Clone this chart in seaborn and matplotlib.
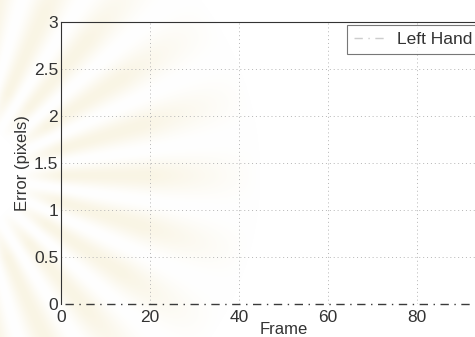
import numpy as np
import pandas as pd
import matplotlib
matplotlib.use("Agg")
import matplotlib.pyplot as plt
import seaborn as sns

# Tracking error of the left hand per frame
frames = [1, 10, 20, 30, 40, 50, 60, 70, 80, 90, 100]
error_px = [0.0, 0.0, 0.0, 0.0, 0.0, 0.0, 0.0, 0.0, 0.0, 0.0, 0.0]
series_name = "Left Hand"

x_ticks = [0, 20, 40, 60, 80]
y_ticks = [0, 0.5, 1, 1.5, 2, 2.5, 3]
y_tick_labels = ["0", "0.5", "1", "1.5", "2", "2.5", "3"]

sns.set_style("white")
plt.rcParams["font.family"] = ["Liberation Sans", "DejaVu Sans"]

W, H = 475, 337
fig = plt.figure(figsize=(W / 100, H / 100), dpi=100)

# soft sunburst emblem behind the plot
bg = fig.add_axes([0, 0, 1, 1], zorder=0)
yy, xx = np.mgrid[0:H, 0:W]
cx, cy = -30.0, 175.0
ang = np.arctan2(yy - cy, xx - cx)
rad = np.hypot(xx - cx, yy - cy)
rays = 0.5 + 0.5 * np.cos(ang * 22)
ring = np.clip((rad - 50) / 40, 0, 1) * np.clip((290 - rad) / 110, 0, 1)
strength = 0.3 * rays * ring
tint = np.array([0.93, 0.87, 0.66])
img = 1 - strength[..., None] * (1 - tint[None, None, :])
bg.imshow(img, extent=(0, W, H, 0), interpolation="bilinear")
bg.set_xlim(0, W)
bg.set_ylim(H, 0)
bg.axis("off")

df = pd.DataFrame({"Frame": frames, "Error": error_px, "series": series_name})

ax = fig.add_axes([61 / W, 33 / H, 445 / W, 282 / H], zorder=1)
ax.patch.set_alpha(0)
sns.lineplot(data=df, x="Frame", y="Error", hue="series", palette=["#3a3a3a"],
             ax=ax, linestyle=(0, (6, 4, 1, 4)), linewidth=1.0, legend=True,
             clip_on=False)

ax.set_xlim(0, 100)
ax.set_ylim(0, 3)
ax.set_xticks(x_ticks)
ax.set_yticks(y_ticks)
ax.set_yticklabels(y_tick_labels)
ax.grid(True, linestyle=(0, (1, 3)), linewidth=0.7, color="#b5b5b5")
ax.tick_params(direction="in", length=3, width=0.8, labelsize=12.5,
               colors="#333333")
ax.tick_params(axis="x", pad=4)
ax.tick_params(axis="y", pad=2)
for side in ["left", "top", "right"]:
    ax.spines[side].set_color("#333333")
    ax.spines[side].set_linewidth(0.8)
ax.spines["bottom"].set_visible(False)

ax.set_xlabel("Frame", fontsize=12, color="#333333", labelpad=-2)
ax.set_ylabel("Error (pixels)", fontsize=12, color="#333333", labelpad=3)

leg = ax.legend(loc="upper left", bbox_to_anchor=(0.643, 0.99), fontsize=12.5,
                frameon=True, fancybox=False, handlelength=1.9,
                borderpad=0.4, handletextpad=0.6, borderaxespad=0.0)
leg.get_frame().set_edgecolor("#555555")
leg.get_frame().set_linewidth(0.8)
leg.get_frame().set_facecolor("white")
for t in leg.get_texts():
    t.set_color("#333333")
for h in leg.get_lines():
    h.set_alpha(0.25)

fig.savefig("out.png", dpi=100)
